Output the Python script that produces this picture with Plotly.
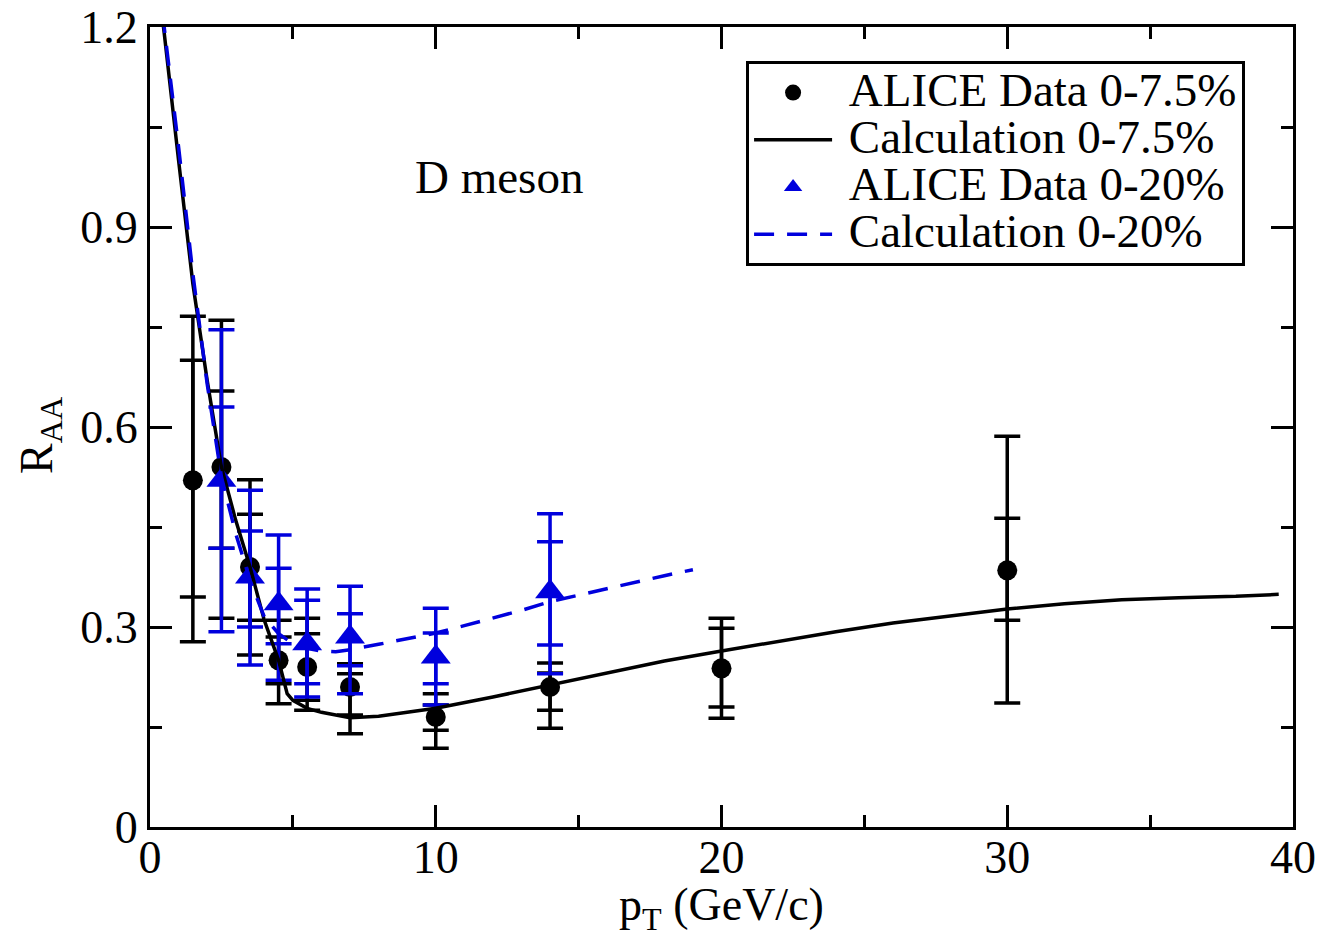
import plotly.graph_objects as go

# ---------------- data ----------------
# ALICE data 0-7.5% (black circles)
pt_alice_75 = [1.5, 2.5, 3.5, 4.5, 5.5, 7.0, 10.0, 14.0, 20.0, 30.0]
raa_alice_75 = [0.52, 0.54, 0.39, 0.25, 0.24, 0.21, 0.165, 0.21, 0.238, 0.385]
tot_lo_75 = [0.278, 0.313, 0.258, 0.185, 0.175, 0.14, 0.118, 0.148, 0.163, 0.186]
tot_hi_75 = [0.766, 0.76, 0.521, 0.31, 0.313, 0.245, 0.20, 0.246, 0.313, 0.586]
stat_lo_75 = [0.345, 0.418, 0.31, 0.215, 0.19, 0.168, 0.145, 0.175, 0.18, 0.31]
stat_hi_75 = [0.70, 0.654, 0.469, 0.285, 0.29, 0.23, 0.183, 0.231, 0.298, 0.463]

# ALICE data 0-20% (blue triangles)
pt_alice_20 = [2.5, 3.5, 4.5, 5.5, 7.0, 10.0, 14.0]
raa_alice_20 = [0.52, 0.375, 0.335, 0.275, 0.285, 0.255, 0.353]
tot_lo_20 = [0.293, 0.243, 0.22, 0.195, 0.20, 0.183, 0.23]
tot_hi_20 = [0.746, 0.505, 0.438, 0.357, 0.361, 0.328, 0.47]
stat_lo_20 = [0.418, 0.30, 0.275, 0.215, 0.242, 0.215, 0.273]
stat_hi_20 = [0.63, 0.444, 0.388, 0.34, 0.32, 0.291, 0.428]

# Calculation 0-7.5% (black solid)
pt_calc_75 = [0.3, 0.5, 1.0, 1.5, 2.0, 2.5, 3.0, 3.5, 4.0, 4.5, 4.8, 5.0, 5.5, 6.0,
              7.0, 8.0, 9.0, 10.0, 12.0, 14.0, 16.0, 18.0, 20.0, 22.0, 24.0, 26.0,
              28.0, 30.0, 32.0, 34.0, 36.0, 38.0, 39.5]
raa_calc_75 = [1.26, 1.19, 1.0, 0.815, 0.67, 0.54, 0.46, 0.39, 0.31, 0.25, 0.20, 0.19,
               0.178, 0.172, 0.164, 0.166, 0.172, 0.178, 0.195, 0.213, 0.232, 0.249,
               0.264, 0.279, 0.293, 0.306, 0.317, 0.327, 0.335, 0.341, 0.344, 0.346, 0.349]

# Calculation 0-20% (blue dashed)
pt_calc_20 = [0.3, 0.5, 1.0, 1.5, 2.0, 2.5, 3.0, 3.5, 4.0, 4.5, 5.0, 5.5, 6.0, 6.5,
              7.0, 8.0, 9.0, 10.0, 11.0, 12.0, 13.0, 14.0, 15.0, 16.0, 17.0, 18.0, 19.0]
raa_calc_20 = [1.27, 1.2, 1.02, 0.83, 0.665, 0.525, 0.44, 0.37, 0.315, 0.29, 0.275,
               0.268, 0.264, 0.263, 0.266, 0.274, 0.282, 0.291, 0.302, 0.313, 0.325,
               0.338, 0.348, 0.358, 0.368, 0.377, 0.386]

x_ticks = [0, 10, 20, 30, 40]
y_ticks = [0, 0.3, 0.6, 0.9, 1.2]

BLACK = "#000000"
BLUE = "#0000dd"
FONT = "Liberation Serif"
FS = 46
LEG_FS = 47


def err(y, lo, hi):
    return dict(type="data", symmetric=False,
                array=[h - v for v, h in zip(y, hi)],
                arrayminus=[v - l for v, l in zip(y, lo)])


def leg(name):
    return f'<span style="font-size:{LEG_FS}px">&nbsp;{name}</span>'


fig = go.Figure()

# black data: stat errors + total errors
fig.add_trace(go.Scatter(
    x=pt_alice_75, y=raa_alice_75, mode="markers", showlegend=False,
    marker=dict(symbol="circle", size=1, color=BLACK),
    error_y=dict(**err(raa_alice_75, stat_lo_75, stat_hi_75), color=BLACK,
                 thickness=3.5, width=13)))
fig.add_trace(go.Scatter(
    x=pt_alice_75, y=raa_alice_75, mode="markers", name=leg("ALICE Data 0-7.5%"),
    legendrank=1,
    marker=dict(symbol="circle", size=20, color=BLACK),
    error_y=dict(**err(raa_alice_75, tot_lo_75, tot_hi_75), color=BLACK,
                 thickness=3.5, width=13)))

# blue data
fig.add_trace(go.Scatter(
    x=pt_alice_20, y=raa_alice_20, mode="markers", showlegend=False,
    marker=dict(symbol="triangle-up", size=1, color=BLUE),
    error_y=dict(**err(raa_alice_20, stat_lo_20, stat_hi_20), color=BLUE,
                 thickness=3.5, width=13)))
fig.add_trace(go.Scatter(
    x=pt_alice_20, y=raa_alice_20, mode="markers", name=leg("ALICE Data 0-20%"),
    legendrank=3,
    marker=dict(symbol="triangle-up", size=26, color=BLUE),
    error_y=dict(**err(raa_alice_20, tot_lo_20, tot_hi_20), color=BLUE,
                 thickness=3.5, width=13)))

# calculations
fig.add_trace(go.Scatter(
    x=pt_calc_75, y=raa_calc_75, mode="lines", name=leg("Calculation 0-7.5%"),
    legendrank=2, line=dict(color=BLACK, width=3.5)))
fig.add_trace(go.Scatter(
    x=pt_calc_20, y=raa_calc_20, mode="lines", name=leg("Calculation 0-20%"),
    legendrank=4, line=dict(color=BLUE, width=3.5, dash="20px,13px")))

fig.add_annotation(x=12.2, y=0.975, xref="x", yref="y", text="D meson",
                   showarrow=False, font=dict(family=FONT, size=47, color=BLACK))

# axis titles
fig.add_annotation(x=0.5, y=0, xref="paper", yref="paper", yanchor="middle",
                   yshift=-81, text="p<sub>T</sub> (GeV/c)", showarrow=False,
                   font=dict(family=FONT, size=FS, color=BLACK))
fig.add_annotation(x=0, y=0.49, xref="paper", yref="paper", xanchor="center",
                   xshift=-110, textangle=-90, text="R<sub>AA</sub>", showarrow=False,
                   font=dict(family=FONT, size=FS, color=BLACK))

axis_common = dict(
    showgrid=False, zeroline=False, showline=True, linecolor=BLACK, linewidth=3,
    mirror="ticks", ticks="inside", tickcolor=BLACK, tickwidth=3, ticklen=22,
    tickfont=dict(family=FONT, size=FS, color=BLACK), automargin=False,
)

fig.update_xaxes(**axis_common, range=[0, 40], tickvals=x_ticks,
                 ticklabelstandoff=-12,
                 minor=dict(dtick=5, ticks="inside", ticklen=12, tickwidth=3,
                            tickcolor=BLACK, showgrid=False))
fig.update_yaxes(**axis_common, range=[0, 1.2], tickvals=y_ticks,
                 minor=dict(dtick=0.15, ticks="inside", ticklen=12, tickwidth=3,
                            tickcolor=BLACK, showgrid=False))

fig.update_layout(
    width=1322, height=939,
    margin=dict(l=150, r=29, t=27, b=112),
    paper_bgcolor="white", plot_bgcolor="white",
    legend=dict(x=0.5215, y=0.9575, xanchor="left", yanchor="top",
                bgcolor="white", bordercolor=BLACK, borderwidth=3,
                font=dict(family=FONT, size=34, color=BLACK),
                itemwidth=78, tracegroupgap=0),
    showlegend=True,
)

fig.write_html("out.html", config={"displayModeBar": False},
               post_script="document.body.style.margin='0';")
